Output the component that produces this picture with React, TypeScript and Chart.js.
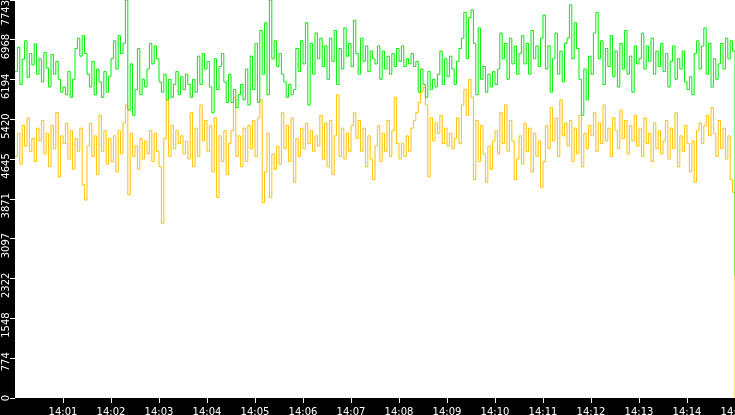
import { useEffect, useRef } from 'react';
import { Chart, registerables } from 'chart.js';

Chart.register(...registerables);

// one sample every 3 seconds, 14:00:00 .. 14:15:00
const sampleSeconds = 3;

const greenValues = [
  6350, 6820, 6100, 6590, 6950, 6240, 6700, 6480, 6890, 6300,
  6600, 6150, 6720, 6420, 6050, 6680, 6300, 6550, 6200, 5950,
  6050, 5900, 6350, 5850, 6200, 6800, 7000, 6650, 7050, 6700,
  6300, 6050, 6550, 5900, 6400, 6150, 5850, 6350, 5950, 6250,
  6600, 6950, 6400, 7050, 6700, 6900, 7743, 5600, 6500, 5500,
  6000, 6800, 5900, 6200, 6050, 6400, 6900, 6500, 6850, 6600,
  6150, 5950, 6300, 5800, 6200, 5850, 6100, 6350, 5900, 6250,
  6000, 6300, 6100, 5850, 6200, 5950, 6650, 6100, 6700, 6400,
  6550, 6050, 5550, 6600, 6000, 6450, 6700, 6150, 5750, 6300,
  5750, 6000, 5650, 5900, 6100, 5800, 6400, 5700, 6650, 6000,
  6900, 5750, 7150, 6300, 7300, 5900, 7743, 6600, 6950, 6450,
  6700, 6300, 6150, 5850, 6100, 5900, 6000, 6800, 6350, 6950,
  6500, 7300, 5700, 6900, 6300, 7100, 6600, 7000, 6450, 6850,
  6200, 7000, 6550, 7150, 6100, 6800, 6400, 7200, 6650, 6900,
  6450, 7350, 6700, 6300, 7000, 6550, 6850, 6350, 6750, 6600,
  6500, 6850, 6200, 6750, 6400, 6650, 6300, 6700, 6450, 6800,
  6550, 6850, 6450, 6600, 6500, 6700, 6450, 6550, 5950, 6400,
  6100, 5850, 6350, 6000, 6200, 6050, 6300, 6750, 6100, 6600,
  6250, 6650, 6400, 6100, 6550, 6800, 7000, 7500, 6600, 7400,
  7550, 6900, 5900, 7200, 6200, 6450, 5950, 6300, 6050, 6350,
  6100, 6400, 7100, 6600, 6900, 6200, 7000, 6500, 6850, 6300,
  6700, 7050, 6500, 6900, 6300, 7150, 6600, 6850, 6450, 7000,
  7450, 6400, 6850, 5950, 6600, 7100, 6300, 6750, 6150, 6900,
  7000, 7650, 6600, 7300, 6800, 6200, 5500, 6400, 5800, 6650,
  6300, 7100, 7500, 6600, 6950, 6100, 6800, 6450, 7050, 6250,
  6750, 6050, 6900, 6400, 7150, 6300, 6650, 5950, 6850, 6500,
  6600, 7100, 6400, 6850, 6550, 7000, 6300, 6750, 6450, 6900,
  6350, 6700, 6050, 6550, 6850, 6200, 6600, 6400, 6750, 6150,
  6000, 6250, 5900, 6700, 6950, 6400, 6850, 7200, 6300, 6900,
  6050, 6600, 6200, 6500, 6900, 6400, 7000, 6600, 6950, 6750,
  2380,
];

const yellowValues = [
  4700, 5150, 4550, 5300, 4900, 5450, 4800, 5050, 4600, 5250,
  5000, 5400, 4750, 5150, 4500, 5300, 4850, 5550, 4300, 5100,
  4950, 5350, 4650, 5200, 4450, 5050, 4800, 5250, 4150, 3850,
  4900, 5350, 4700, 5100, 4350, 5500, 4800, 5200, 4550, 5050,
  4600, 5100, 4400, 5200, 4750, 5350, 5700, 3950, 5150, 4700,
  4900, 4450, 5050, 4650, 5000, 4750, 5200, 4600, 5150, 4800,
  4500, 3400, 5050, 5800, 4700, 5300, 4850, 5200, 4950, 5100,
  4750, 5000, 4650, 5550, 4500, 5250, 4700, 5700, 5000, 5400,
  4800, 5300, 4400, 5450, 3900, 5100, 4600, 5200, 4350, 4950,
  5200, 5850, 4700, 5100, 4500, 5250, 4600, 5300, 4850, 5400,
  4700, 5450, 5800, 3800, 4400, 5150, 3900, 4750, 4450, 4900,
  4550, 5550, 4850, 5300, 4600, 5450, 4200, 5050, 4700, 5250,
  4850, 5350, 4950, 5200, 4800, 5100, 4900, 5500, 4650, 5350,
  4500, 5400, 4350, 5100, 5900, 4700, 5250, 4650, 5150, 4800,
  5300, 5550, 5050, 5400, 4800, 5250, 4500, 5100, 4650, 4250,
  4900, 5300, 4600, 5150, 4800, 5400, 4700, 5200, 5850, 4950,
  4650, 4950, 4700, 5100, 4800, 5250, 5400, 5550, 5750, 5950,
  6050, 5700, 4300, 5450, 5000, 5350, 5150, 5500, 4950, 5250,
  4900, 5150, 4850, 5050, 5450, 4950, 5700, 6000, 5500, 6200,
  5850, 4250, 5400, 4600, 5300, 4750, 4200, 4900, 4450, 5000,
  5200, 4750, 5550, 4950, 5700, 4800, 5400, 5000, 4250, 4650,
  5100, 4550, 5350, 4800, 5250, 4400, 5150, 4700, 5000, 4100,
  4600, 5300, 4850, 5650, 5000, 5450, 4700, 5800, 5100, 5350,
  4900, 5400, 4600, 5250, 4750, 5500, 4500, 5150, 4850, 5300,
  5100, 5550, 4800, 5350, 4950, 5700, 5000, 5250, 4700, 5450,
  5200, 4850, 5600, 5050, 5400, 4750, 5300, 5000, 5500, 4900,
  5250, 4700, 5450, 4950, 5150, 4600, 5350, 4850, 5200, 4750,
  5000, 5400, 4650, 5250, 4850, 5550, 4500, 5100, 4800, 5300,
  4950, 4400, 5000, 4200, 5200, 5350, 4950, 5300, 5500, 5100,
  5650, 5150, 4700, 5400, 4850, 5250, 4650, 5100, 4250, 4000,
  0,
];

const yMax = 7743;
const yTickValues = [0, 774.3, 1548.6, 2322.9, 3097.2, 3871.5, 4645.8, 5420.1, 6194.4, 6968.7, 7743];
const yTickLabels = ['0', '774', '1548', '2322', '3097', '3871', '4645', '5420', '6194', '6968', '7743'];

const xTickSeconds = [60, 120, 180, 240, 300, 360, 420, 480, 540, 600, 660, 720, 780, 840, 900];
const xTickLabels = ['14:01', '14:02', '14:03', '14:04', '14:05', '14:06', '14:07', '14:08', '14:09', '14:10', '14:11', '14:12', '14:13', '14:14', '14:15'];

const axisFont = { family: 'DejaVu Sans', size: 10 };

// black frame around a white plot area, and keep the end labels of the y axis inside
const panelBackground = {
  id: 'panelBackground',
  beforeDraw(chart: any) {
    const { ctx, chartArea, width, height } = chart;
    ctx.save();
    ctx.fillStyle = '#000';
    ctx.fillRect(0, 0, width, height);
    ctx.fillStyle = '#fff';
    ctx.fillRect(chartArea.left, chartArea.top, chartArea.right - chartArea.left, chartArea.bottom - chartArea.top);
    ctx.restore();

    const items = chart.scales.y.getLabelItems(chartArea);
    items.forEach((item: any) => {
      const t = item.options.translation;
      if (item.label === yTickLabels[0]) t[1] += 3;
      if (t[1] < 0) t[1] = 0;
    });
  },
};

const App = () => {
  const canvasRef = useRef<HTMLCanvasElement>(null);
  const chartRef = useRef<Chart | null>(null);

  useEffect(() => {
    if (!canvasRef.current) return;
    if (chartRef.current) chartRef.current.destroy();

    chartRef.current = new Chart(canvasRef.current, {
      type: 'line',
      data: {
        datasets: [
          {
            label: 'green',
            data: greenValues.map((v, i) => ({ x: i * sampleSeconds, y: v })),
            borderColor: '#00ee00',
            borderWidth: 1,
            pointRadius: 0,
            stepped: true,
          },
          {
            label: 'yellow',
            data: yellowValues.map((v, i) => ({ x: i * sampleSeconds, y: v })),
            borderColor: '#ffc000',
            borderWidth: 1,
            pointRadius: 0,
            stepped: true,
          },
        ],
      },
      options: {
        responsive: true,
        maintainAspectRatio: false,
        animation: false,
        events: [],
        layout: { padding: 0 },
        plugins: {
          legend: { display: false },
          tooltip: { enabled: false },
        },
        scales: {
          x: {
            type: 'linear',
            min: 0,
            max: 900,
            border: { display: false },
            grid: { drawOnChartArea: false, tickLength: 5, tickColor: '#fff', color: '#fff' },
            ticks: {
              color: '#fff',
              font: axisFont,
              padding: 3,
              autoSkip: false,
              minRotation: 0,
              maxRotation: 0,
              callback: (_v: any, i: number) => xTickLabels[i],
            },
            afterBuildTicks: (scale: any) => {
              scale.ticks = xTickSeconds.map((value) => ({ value }));
            },
            afterFit: (scale: any) => {
              scale.height = 17;
              scale.paddingLeft = 0;
              scale.paddingRight = 0;
            },
          },
          y: {
            type: 'linear',
            min: 0,
            max: yMax,
            border: { display: false },
            grid: { drawOnChartArea: false, tickLength: 5, tickColor: '#fff', color: '#fff' },
            ticks: {
              color: '#fff',
              font: axisFont,
              padding: 4,
              autoSkip: false,
              minRotation: 90,
              maxRotation: 90,
              labelOffset: -6,
              callback: (_v: any, i: number) => yTickLabels[i],
            },
            afterBuildTicks: (scale: any) => {
              scale.ticks = yTickValues.map((value) => ({ value }));
            },
            afterFit: (scale: any) => {
              scale.width = 15;
              scale.paddingTop = 0;
              scale.paddingBottom = 0;
            },
          },
        },
      },
      plugins: [panelBackground],
    });

    return () => {
      if (chartRef.current) {
        chartRef.current.destroy();
        chartRef.current = null;
      }
    };
  }, []);

  return (
    <div style={{ width: 735, height: 415, position: 'relative' }}>
      <style>{'body { margin: 0; }'}</style>
      <canvas ref={canvasRef} />
    </div>
  );
};

export default App;
